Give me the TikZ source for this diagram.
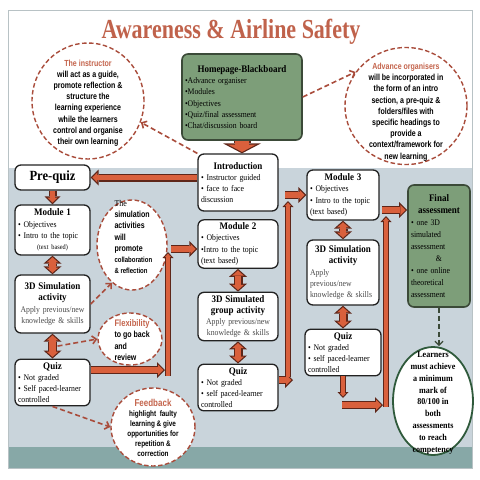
\documentclass[tikz,border=0pt]{standalone}
\usepackage{fontspec}
\setmainfont{Liberation Serif}[FakeStretch=0.9]
\newfontfamily\narrowsans{Liberation Sans}[FakeStretch=0.8]
\newfontfamily\titlefont{Liberation Serif}[FakeStretch=0.8]
\usepackage{xcolor}
\usepackage{tikz}
\usetikzlibrary{arrows.meta}
\usetikzlibrary{shapes.geometric, calc}

\definecolor{titlered}{HTML}{C0624B}
\definecolor{dashred}{HTML}{A94C3B}
\definecolor{headred}{HTML}{C4644C}
\definecolor{arrowfill}{HTML}{D9603C}
\definecolor{arrowline}{HTML}{5E2619}
\definecolor{greenfill}{HTML}{7D9E79}
\definecolor{greenline}{HTML}{3B4A38}
\definecolor{boxline}{HTML}{222222}
\definecolor{panel}{HTML}{C9D4DB}
\definecolor{band}{HTML}{87A8A7}
\definecolor{framegray}{HTML}{B8C2C5}
\definecolor{applygray}{HTML}{4A4A4A}
\definecolor{goalgreen}{HTML}{2F5A3B}

\newcommand{\boxtitle}[1]{\makebox[\hsize]{\fontsize{10}{12}\selectfont\bfseries #1}}

\tikzset{
  box/.style={rectangle, rounded corners=6pt, draw=boxline, line width=1.3pt, fill=white,
    inner sep=3pt, align=left, font=\fontsize{8.6}{11.2}\selectfont},
  greenbox/.style={box, fill=greenfill, draw=greenline, line width=1.6pt},
  bubble/.style={ellipse, draw=dashred, line width=1.4pt, dash pattern=on 4.5pt off 2.5pt,
    fill=white, inner sep=0pt},
  bubbletext/.style={align=center, font=\narrowsans\bfseries\fontsize{8.8}{11.2}\selectfont},
  goal/.style={ellipse, draw=goalgreen, line width=1.8pt, fill=white, inner sep=0pt},
  goaltext/.style={align=center, font=\bfseries\fontsize{9}{11.8}\selectfont},
  linkarrow/.style={draw=dashred, line width=1.6pt, dash pattern=on 5pt off 3pt,
    -{Straight Barb[length=4pt,width=8pt]}},
  goallink/.style={draw=greenline, line width=1.3pt, dash pattern=on 5pt off 3pt,
    -{Straight Barb[length=4pt,width=8pt]}},
  bigarrow/.style={draw=arrowline, line width=17pt, -{Triangle[length=10pt,width=38pt,line width=0pt]},
    postaction={draw=arrowfill, line width=14.6pt, shorten >=1.4pt,
      -{Triangle[length=7.4pt,width=28pt,line width=0pt]}}},
  flowarrow/.style={draw=arrowline, line width=8pt, -{Triangle[length=8pt,width=16pt,line width=0pt]},
    postaction={draw=arrowfill, line width=5.6pt, shorten >=1.7pt,
      -{Triangle[length=5.1pt,width=10.2pt,line width=0pt]}}},
  thinarrow/.style={draw=arrowline, line width=5.5pt, -{Triangle[length=6pt,width=11pt,line width=0pt]},
    postaction={draw=arrowfill, line width=3.3pt, shorten >=1.6pt,
      -{Triangle[length=3.3pt,width=6pt,line width=0pt]}}},
  twoway/.style={draw=arrowline, line width=9pt,
    {Triangle[length=8pt,width=18pt,line width=0pt]}-{Triangle[length=8pt,width=18pt,line width=0pt]},
    postaction={draw=arrowfill, line width=6.6pt, shorten <=1.6pt, shorten >=1.6pt,
      {Triangle[length=5.2pt,width=11.7pt,line width=0pt]}-{Triangle[length=5.2pt,width=11.7pt,line width=0pt]}}},
}

\begin{document}
\begin{tikzpicture}[x=1pt, y=-1pt]
  \useasboundingbox (0,0) rectangle (480,480);
  % background
  \fill[white] (0,0) rectangle (480,480);
  \fill[panel] (8,168) rectangle (472,447);
  \fill[band] (8,447) rectangle (472,468);
  \draw[framegray, line width=0.8pt] (8,10) rectangle (472,468);

  \node[text=titlered, font=\titlefont\bfseries\fontsize{27.5}{30}\selectfont] (title) at (231,32) {Awareness \& Airline Safety};

  % comment bubbles
  \node[bubble, minimum width=112pt, minimum height=116pt] (instructor) at (88,101) {};
  \node[bubbletext] (instructor-txt) at (88,103) {\textcolor{headred}{The instructor}\\will act as a guide,\\promote reflection \&\\structure the\\learning experience\\while the learners\\control and organise\\their own learning};

  \node[bubble, minimum width=122pt, minimum height=117pt] (advance) at (406,106) {};
  \node[bubbletext] (advance-txt) at (406,112) {\textcolor{headred}{Advance organisers}\\will be incorporated in\\the form of an intro\\section, a pre-quiz \&\\folders/files with\\specific headings to\\provide a\\context/framework for\\new learning};

  \node[bubble, minimum width=70pt, minimum height=90pt] (simcircle) at (132,245) {};
  \node[bubbletext, align=left, anchor=west] (simcircle-txt) at (111,237) {{\rmfamily\mdseries The}\\simulation\\activities\\will\\promote\\{\fontsize{7.5}{9}\selectfont collaboration}\\{\fontsize{7.5}{9}\selectfont \& reflection}};

  \node[bubble, minimum width=64pt, minimum height=52pt] (flex) at (130,339) {};
  \node[bubbletext, align=left, anchor=west] (flex-txt) at (111,340) {\textcolor{headred}{\fontsize{9.5}{11}\selectfont Flexibility}\\to go back\\and\\review};

  \node[bubble, minimum width=84pt, minimum height=78pt] (feedback) at (153,427) {};
  \node[bubbletext, font=\narrowsans\bfseries\fontsize{8}{9.9}\selectfont] (feedback-txt) at (153,428) {\textcolor{headred}{\fontsize{10}{11}\selectfont Feedback}\\highlight\ \ faulty\\learning \& give\\opportunities for\\repetition \&\\correction};

  \node[goal, minimum width=80pt, minimum height=108pt] (learners) at (433,401) {};
  \node[goaltext] (learners-txt) at (433,403) {Learners\\must achieve\\a minimum\\mark of\\80/100 in\\both\\assessments\\to reach\\competency};

  % course boxes
  \node[greenbox, text width=114pt, minimum height=86pt] (home) at (242,97) {\boxtitle{Homepage-Blackboard}\\•Advance organiser\\•Modules\\•Objectives\\•Quiz/final assessment\\•Chat/discussion board};
  \node[box, text width=74pt, minimum height=57pt] (intro) at (238,182.5) {\boxtitle{Introduction}\\• Instructor guided\\• face to face\\discussion};
  \node[box, text width=69pt, minimum height=25pt, align=center, font=\bfseries\fontsize{14}{16}\selectfont] (prequiz) at (52.5,177.5) {Pre-quiz};

  \node[box, text width=69pt, minimum height=50pt] (modA) at (52.5,230) {\boxtitle{Module 1}\\• Objectives\\• Intro to the topic\\\makebox[\hsize]{\fontsize{7}{8}\selectfont (text based)}};
  \node[box, text width=69pt, minimum height=58pt, align=center] (simA) at (52.5,304) {\boxtitle{3D Simulation}\\\boxtitle{activity}\\\textcolor{applygray}{Apply previous/new}\\\textcolor{applygray}{knowledge \& skills}};
  \node[box, text width=69pt, minimum height=45pt] (quizA) at (52.5,382.5) {\boxtitle{Quiz}\\• Not graded\\• Self paced-learner\\controlled};

  \node[box, text width=74pt, minimum height=48pt] (modB) at (238,244) {\boxtitle{Module 2}\\• Objectives\\•Intro to the topic\\(text based)};
  \node[box, text width=74pt, minimum height=47pt, align=center] (simB) at (238,316.5) {\boxtitle{3D Simulated}\\\boxtitle{group activity}\\\textcolor{applygray}{Apply previous/new}\\\textcolor{applygray}{knowledge \& skills}};
  \node[box, text width=74pt, minimum height=45pt] (quizB) at (238,387.5) {\boxtitle{Quiz}\\• Not graded\\• self paced-learner\\controlled};

  \node[box, text width=66pt, minimum height=50pt] (modC) at (343,195) {\boxtitle{Module 3}\\• Objectives\\• Intro to the topic\\(text based)};
  \node[box, text width=66pt, minimum height=65pt] (simC) at (343,272.5) {\boxtitle{3D Simulation}\\\boxtitle{activity}\\\textcolor{applygray}{Apply}\\\textcolor{applygray}{previous/new}\\\textcolor{applygray}{knowledge \& skills}};
  \node[box, text width=70pt, minimum height=45pt] (quizC) at (343,352.5) {\boxtitle{Quiz}\\• Not graded\\• self paced-learner\\controlled};

  \node[greenbox, text width=56pt, minimum height=122pt, font=\fontsize{8.6}{12}\selectfont] (final) at (439,246) {\boxtitle{Final}\\\boxtitle{assessment}\\• one 3D\\simulated\\assessment\\\makebox[\hsize]{\&}\\• one online\\theoretical\\assessment};

  % block arrows
  \draw[bigarrow] (home.south) -- (home.south |- intro.north);
  \draw[flowarrow] (intro.west |- prequiz.east) -- (prequiz.east);
  \draw[flowarrow] (prequiz.south) -- (modA.north);
  \foreach \a/\b in {modA/simA, simA/quizA, modB/simB, simB/quizB, modC/simC, simC/quizC}
    \draw[twoway] (\a.south) -- (\b.north);

  \coordinate (turnA) at (165,370);
  \coordinate (barA) at (168,376);
  \coordinate (topA) at (168,252);
  \coordinate (joinA) at (171,249);
  \draw[flowarrow] (quizA.east |- turnA) -- (turnA);
  \draw[thinarrow] (barA) -- (topA);
  \draw[flowarrow] (joinA) -- (joinA -| modB.west);

  \coordinate (turnB) at (293,380);
  \coordinate (barB) at (288,377);
  \coordinate (topB) at (288,201);
  \coordinate (joinB) at (285,195);
  \draw[flowarrow] (quizB.east |- turnB) -- (turnB);
  \draw[thinarrow] (barB) -- (topB);
  \draw[flowarrow] (joinB) -- (joinB -| modC.west);

  \coordinate (dropC) at (343,398);
  \coordinate (startC) at (342,405);
  \coordinate (turnC) at (383,405);
  \coordinate (barC) at (386,407);
  \coordinate (topC) at (386,216);
  \coordinate (joinC) at (382,210);
  \draw[thinarrow] (quizC.south) -- (dropC);
  \draw[flowarrow] (startC) -- (turnC);
  \draw[thinarrow] (barC) -- (topC);
  \draw[flowarrow] (joinC) -- (joinC -| final.west);

  % dashed links to the comments
  \coordinate (midA) at ($(simA.south)!0.5!(quizA.north)$);
  \draw[linkarrow] (home.east) -- (advance.146);
  \draw[linkarrow] (intro.north west) -- (instructor.-22);
  \draw[linkarrow] (simA.east) -- (simcircle.242);
  \draw[linkarrow] ([xshift=5pt]midA) -- (flex.west);
  \draw[linkarrow] (quizA.south) -- (feedback.west);
  \draw[goallink] (final.south) -- (final.south |- learners.north);
\end{tikzpicture}
\end{document}
